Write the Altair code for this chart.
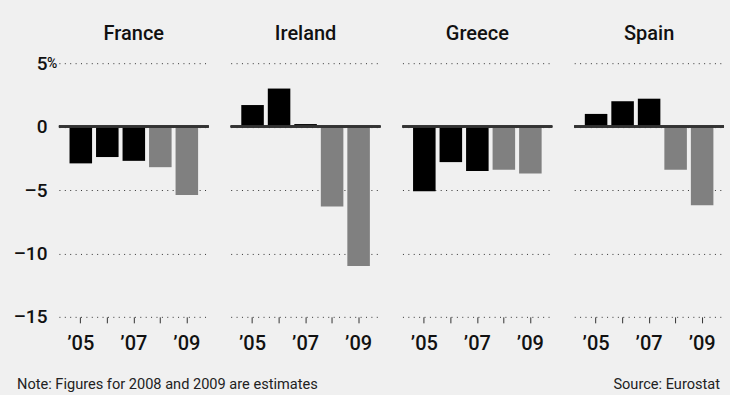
import altair as alt
import pandas as pd

# Budget balance, % of GDP
countries = ["France", "Ireland", "Greece", "Spain"]
years = [2005, 2006, 2007, 2008, 2009]
france = [-2.9, -2.4, -2.7, -3.2, -5.4]
ireland = [1.7, 3.0, 0.2, -6.3, -11.0]
greece = [-5.1, -2.8, -3.5, -3.4, -3.7]
spain = [1.0, 2.0, 2.2, -3.4, -6.2]
estimate_years = [2008, 2009]
y_ticks = [5, 0, -5, -10, -15]
note_text = "Note: Figures for 2008 and 2009 are estimates"
source_text = "Source: Eurostat"

series = {"France": france, "Ireland": ireland, "Greece": greece, "Spain": spain}

FONT = "Roboto"
BG = "#f0f0f0"
INK = "#111111"
W, H = 150, 254

x_scale = alt.Scale(paddingInner=0.15, paddingOuter=0.4)
y_scale = alt.Scale(domain=[-15, 5], nice=False, zero=False)


def label(text, **mark_kw):
    return alt.Chart(pd.DataFrame({"t": [text]})).mark_text(font=FONT, **mark_kw)


def panel(name, first=False, last=False):
    df = pd.DataFrame({
        "year": years,
        "value": series[name],
        "kind": ["estimate" if y in estimate_years else "actual" for y in years],
    })
    y_axis = alt.Axis(
        values=y_ticks,
        grid=True,
        gridColor="#333333",
        gridDash=[1, 4.4],
        gridWidth=1,
        domain=False,
        ticks=False,
        labels=first,
        labelExpr="datum.value < 0 ? '–' + abs(datum.value) : '' + datum.value",
        labelFont=FONT,
        labelFontSize=19,
        labelFontWeight=500,
        labelColor=INK,
        labelPadding=12,
        title=None,
    )
    x_axis = alt.Axis(
        domain=False,
        ticks=True,
        tickSize=6,
        tickColor="#333333",
        tickWidth=1,
        labelAngle=0,
        labelExpr="datum.value % 2 == 1 ? '’' + substring('' + datum.value, 2) : ''",
        labelFont=FONT,
        labelFontSize=20,
        labelFontWeight=500,
        labelColor=INK,
        labelPadding=11,
        title=None,
    )
    bars = alt.Chart(df).mark_bar().encode(
        x=alt.X("year:O", scale=x_scale, axis=x_axis),
        y=alt.Y("value:Q", scale=y_scale, axis=y_axis),
        y2=alt.datum(0),
        color=alt.Color(
            "kind:N",
            scale=alt.Scale(domain=["actual", "estimate"], range=["#000000", "#808080"]),
            legend=None,
        ),
    )
    zero = alt.Chart(df).mark_rule(color="#333333", strokeWidth=2).encode(
        y=alt.datum(0)
    )
    heading = label(
        name, align="center", baseline="middle", fontSize=20, fontWeight=500, color=INK,
    ).encode(x=alt.value(W / 2), y=alt.value(-29), text="t:N")
    layers = [bars, zero, heading]
    if first:
        pct = label(
            "%", align="left", baseline="middle", fontSize=14, fontWeight=500,
            color=INK, dy=1,
        ).encode(x=alt.value(-12), y=alt.datum(5), text="t:N")
        note = label(
            note_text, align="left", baseline="middle", fontSize=14.6, color="#222222",
        ).encode(x=alt.value(-42), y=alt.value(H + 68), text="t:N")
        layers += [pct, note]
    if last:
        src = label(
            source_text, align="right", baseline="middle", fontSize=14.6, color="#222222",
        ).encode(x=alt.value(W - 4), y=alt.value(H + 68), text="t:N")
        layers.append(src)
    return alt.layer(*layers).properties(width=W, height=H)


chart = alt.hconcat(
    *[panel(c, first=(i == 0), last=(i == len(countries) - 1)) for i, c in enumerate(countries)],
    spacing=22,
    bounds="flush",
).properties(
    background=BG,
    padding={"left": 13, "top": 24, "right": 5, "bottom": 5},
).configure_view(stroke=None)

chart.save("out.html", embed_options={"renderer": "svg", "actions": False})
